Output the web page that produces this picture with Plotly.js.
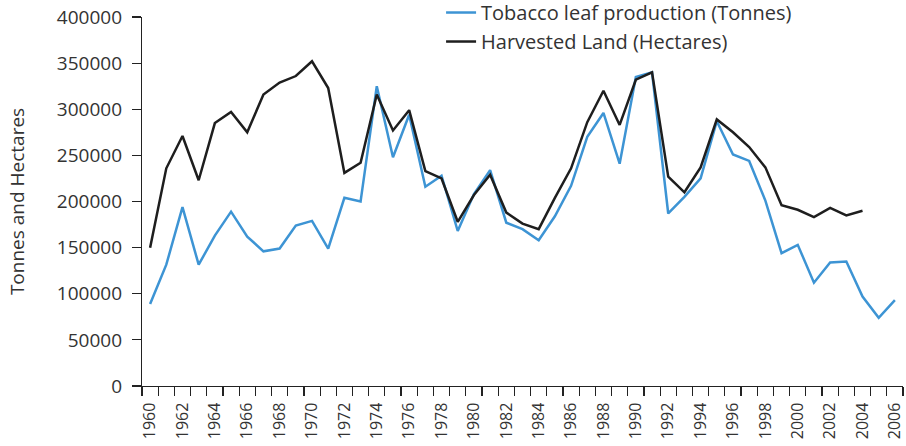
<!DOCTYPE html>
<html>
<head>
<meta charset="utf-8">
<script src="https://cdn.plot.ly/plotly-3.0.1.min.js"></script>
<style>html,body{margin:0;padding:0;background:#fff;}#chart{width:906px;height:446px;}</style>
</head>
<body>
<div id="chart"></div>
<script>
const years = [1960,1961,1962,1963,1964,1965,1966,1967,1968,1969,1970,1971,1972,1973,1974,1975,1976,1977,1978,1979,1980,1981,1982,1983,1984,1985,1986,1987,1988,1989,1990,1991,1992,1993,1994,1995,1996,1997,1998,1999,2000,2001,2002,2003,2004,2005,2006];
const tobaccoProduction = [89000,131500,194000,131500,163000,189000,162000,146000,149000,174000,179000,149000,204000,200000,325000,248000,294000,216000,228000,168000,208000,234000,177000,170000,158000,184000,217000,270000,296000,241000,335000,340000,187000,205000,225000,287000,251000,244000,201000,144000,153000,112000,134000,135000,97000,74000,93000];
const harvestedLand = [150000,236000,271000,223000,285000,297000,275000,316000,329000,336000,352000,323000,231000,242000,316000,277000,299000,233000,225000,178000,207000,229000,188000,176000,170000,204000,236000,286000,320000,283000,332000,340000,227000,210000,237000,289000,275000,259000,237000,196000,191000,183000,193000,185000,190000,null,null];
const seriesNames = ["Tobacco leaf production (Tonnes)", "Harvested Land (Hectares)"];
const yTickValues = [0,50000,100000,150000,200000,250000,300000,350000,400000];
const xLabelYears = years.filter((y, i) => i % 2 === 0);
const boundaries = years.map(y => y - 0.5).concat([years[years.length - 1] + 0.5]);

const FONT = "Open Sans, Liberation Sans, sans-serif";
const traces = [
  {x: years, y: tobaccoProduction, name: seriesNames[0], type: "scatter", mode: "lines",
   line: {color: "#3d94d4", width: 2.5}},
  {x: years, y: harvestedLand, name: seriesNames[1], type: "scatter", mode: "lines",
   line: {color: "#1e1e1e", width: 2.5}, connectgaps: false}
];
const xr = [years[0] - 0.5, years[years.length - 1] + 0.5];
const layout = {
  width: 906, height: 446,
  margin: {l: 142, r: 3, t: 17, b: 60, autoexpand: false},
  paper_bgcolor: "#fff", plot_bgcolor: "#fff",
  font: {family: FONT, color: "#333"},
  showlegend: true,
  legend: {x: 0.393, y: 1.065, xanchor: "left", yanchor: "top", bgcolor: "rgba(0,0,0,0)",
           font: {size: 20, color: "#333", family: FONT}},
  xaxis: {type: "linear", range: xr, tickvals: xLabelYears, ticktext: xLabelYears.map(String),
          tickangle: -90, ticks: "outside", ticklen: 9, tickcolor: "rgba(0,0,0,0)",
          showline: true, linecolor: "#222", linewidth: 1.2, showgrid: false, zeroline: false,
          tickfont: {size: 16, color: "#333", family: FONT}, fixedrange: true},
  xaxis2: {type: "linear", range: xr, overlaying: "x", anchor: "y", side: "bottom",
           tickvals: boundaries, showticklabels: false, ticks: "outside", ticklen: 9,
           tickcolor: "#222", tickwidth: 1.2, showline: false, showgrid: false, zeroline: false},
  yaxis: {range: [0, 400000], tickvals: yTickValues, tickformat: "d",
          ticks: "outside", ticklen: 9, tickcolor: "#222", tickwidth: 1.2, ticklabelstandoff: 6,
          showline: true, linecolor: "#222", linewidth: 1.2, showgrid: false, zeroline: false,
          tickfont: {size: 19, color: "#333", family: FONT},
          title: {text: "Tonnes and Hectares", font: {size: 19, color: "#333", family: FONT}, standoff: 27}}
};
traces.push({x: [years[0]], y: [null], xaxis: "x2", yaxis: "y", showlegend: false, hoverinfo: "skip", mode: "lines"});
Plotly.newPlot("chart", traces, layout, {displayModeBar: false, staticPlot: true});
</script>
</body>
</html>
